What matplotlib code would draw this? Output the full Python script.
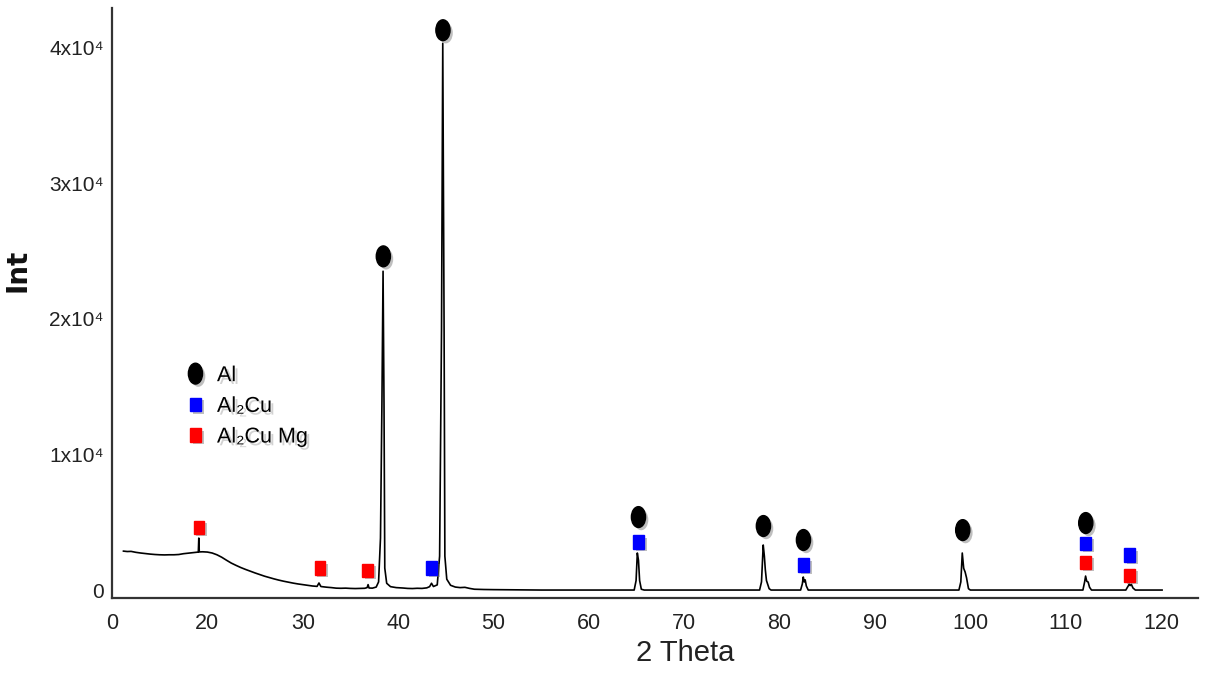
import matplotlib
matplotlib.use('Agg')
import matplotlib.pyplot as plt
import matplotlib.patheffects as pe
from matplotlib.markers import MarkerStyle
from matplotlib.transforms import Affine2D

two_theta = [11.2, 11.6, 12.0, 12.5, 13.0, 13.5, 14.0, 14.5, 15.0, 15.5, 16.0, 16.5,
             17.0, 17.5, 18.0, 18.5, 18.9, 19.05, 19.1, 19.15, 19.5, 20.0, 20.5, 21.0,
             21.5, 22.0, 22.5, 23.0, 23.5, 24.0, 24.5, 25.0, 25.5, 26.0, 26.5, 27.0,
             27.5, 28.0, 28.5, 29.0, 29.5, 30.0, 30.5, 31.0, 31.5, 31.7, 31.9, 32.5,
             33.0, 33.5, 34.0, 34.5, 35.0, 35.5, 36.0, 36.5, 36.75, 36.85, 36.95, 37.3,
             37.7, 37.95, 38.15, 38.3, 38.42, 38.52, 38.6, 38.8, 39.2, 39.8, 40.5, 41.0,
             41.5, 42.0, 42.5, 43.0, 43.3, 43.5, 43.7, 44.1, 44.35, 44.55, 44.68, 44.82,
             44.9, 45.1, 45.5, 46.0, 46.5, 47.0, 47.5, 48.0, 49.0, 50.0, 55.0, 60.0,
             64.75, 64.95, 65.08, 65.2, 65.32, 65.5, 65.8,
             77.9, 78.1, 78.28, 78.4, 78.5, 78.62, 78.9, 79.1,
             82.2, 82.38, 82.48, 82.58, 82.68, 82.8, 83.0,
             98.8, 99.0, 99.15, 99.3, 99.45, 99.6, 99.8, 100.0,
             111.8, 111.98, 112.08, 112.2, 112.35, 112.5, 112.7,
             116.3, 116.55, 116.65, 116.75, 116.88, 117.05, 117.3, 120.1]

intensity = [2870, 2840, 2850, 2780, 2730, 2690, 2650, 2620, 2600, 2590, 2600, 2600,
             2620, 2680, 2720, 2760, 2790, 2800, 3830, 2810, 2820, 2800, 2730, 2600,
             2420, 2200, 1990, 1820, 1660, 1520, 1390, 1260, 1140, 1020, 920, 820,
             730, 650, 580, 510, 450, 400, 350, 300, 270, 520, 260, 210,
             180, 140, 130, 140, 120, 110, 120, 130, 180, 400, 150, 140,
             220, 600, 3830, 13700, 23500, 13700, 1620, 500, 250, 180, 150, 120,
             110, 130, 120, 160, 250, 500, 260, 380, 2500, 19160, 40300, 19160,
             2500, 800, 350, 220, 180, 200, 120, 60, 40, 30, 0, 0,
             0, 700, 2730, 2200, 700, 60, 0,
             0, 600, 3320, 2500, 1500, 700, 100, 0,
             0, 450, 960, 600, 750, 300, 0,
             0, 600, 2730, 1600, 1330, 900, 100, 0,
             0, 600, 1030, 650, 590, 200, 0,
             0, 300, 440, 330, 420, 150, 0, 0]

# phase markers (position, height of marker)
al_x = [38.45, 44.7, 65.2, 78.3, 82.5, 99.2, 112.1]
al_y = [24600, 41270, 5380, 4720, 3690, 4420, 4940]

al2cu_x = [43.5, 65.2, 82.5, 112.1, 116.7]
al2cu_y = [1620, 3540, 1840, 3460, 2580]

al2cumg_x = [19.1, 31.8, 36.8, 112.1, 116.7]
al2cumg_y = [4640, 1620, 1470, 2060, 1100]

xticks = [10, 20, 30, 40, 50, 60, 70, 80, 90, 100, 110, 120]
xtick_labels = ['0', '20', '30', '40', '50', '60', '70', '80', '90', '100', '110', '120']
yticks = [0, 10000, 20000, 30000, 40000]
ytick_labels = ['0', '1x10⁴', '2x10⁴', '3x10⁴', '4x10⁴']

##################### plot

plt.rcParams['font.family'] = ['Liberation Sans', 'DejaVu Sans']

fig = plt.figure(figsize=(12.07, 6.75), dpi=100)
ax = fig.add_axes([0.0928, 0.114, 0.9, 0.874])

ax.plot(two_theta, intensity, color='black', lw=1.2)

shadow = [pe.SimplePatchShadow(offset=(2, -2), shadow_rgbFace='0.45', alpha=0.45), pe.Normal()]
ellipse = MarkerStyle('o', transform=Affine2D().scale(0.68, 1.0))
rect = MarkerStyle('s', transform=Affine2D().scale(0.8, 1.0))

ax.plot(al_x, al_y, ls='none', marker=ellipse, ms=15, color='black', label='Al',
        path_effects=shadow)
ax.plot(al2cu_x, al2cu_y, ls='none', marker=rect, ms=9.5, color='#0000ff', mec='#0000ff',
        label='Al₂Cu', path_effects=shadow)
ax.plot(al2cumg_x, al2cumg_y, ls='none', marker=rect, ms=9.5, color='#ff0000', mec='#ff0000',
        label='Al₂Cu Mg', path_effects=shadow)

ax.set_xlim(10.06, 123.9)
ax.set_ylim(-590, 42900)

ax.set_xticks(xticks)
ax.set_xticklabels(xtick_labels, fontsize=15.5, color='#222222')
ax.set_yticks(yticks)
ax.set_yticklabels(ytick_labels, fontsize=15, color='#222222')
ax.tick_params(axis='both', length=0)
ax.tick_params(axis='x', pad=11)
ax.tick_params(axis='y', pad=6)

for side in ['top', 'right']:
    ax.spines[side].set_visible(False)
for side in ['left', 'bottom']:
    ax.spines[side].set_linewidth(1.6)
    ax.spines[side].set_color('#333333')

ax.set_xlabel('2 Theta', fontsize=21, color='#222222')
ax.xaxis.set_label_coords(0.528, -0.07)
fig.text(18 / 1207, 1 - 270 / 675, 'Int', rotation=90, ha='center', va='center',
         family='DejaVu Sans', fontweight='bold', fontsize=20, color='#111111')

leg = ax.legend(loc='upper left', bbox_to_anchor=(0.057, 0.413), frameon=False,
                borderpad=0, handlelength=1.0, handletextpad=0.5, labelspacing=0.45,
                prop={'size': 15.5})
for t in leg.get_texts():
    t.set_path_effects([pe.SimplePatchShadow(offset=(2, -2), shadow_rgbFace='0.5', alpha=0.35),
                        pe.Normal()])

fig.savefig('out.png', dpi=100)
